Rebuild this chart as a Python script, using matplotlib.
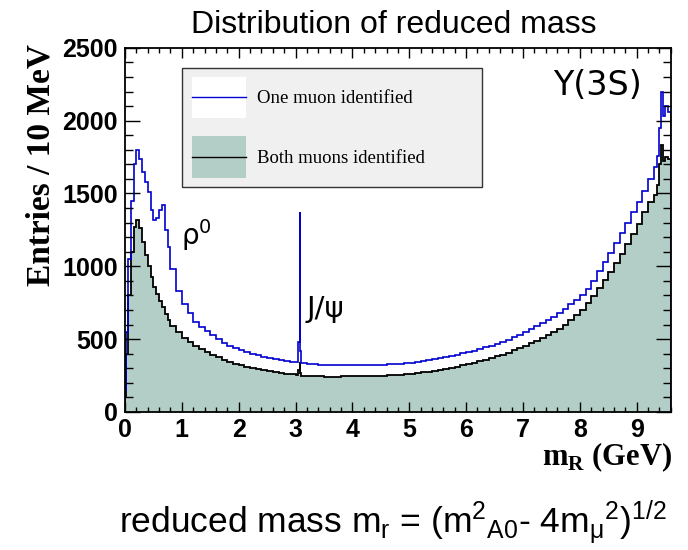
import matplotlib
matplotlib.use('Agg')
import matplotlib.pyplot as plt
from matplotlib.patches import Rectangle
from matplotlib.ticker import MultipleLocator

# Histogram binning (GeV) and contents (entries / 10 MeV)
mass_edges = [0.0, 0.02, 0.05, 0.1, 0.15, 0.2, 0.25, 0.3, 0.35, 0.4, 0.45, 0.5,
              0.55, 0.6, 0.65, 0.7, 0.75, 0.8, 0.9, 1.0, 1.1, 1.2, 1.3, 1.4,
              1.5, 1.6, 1.7, 1.8, 1.9, 2.0, 2.1, 2.2, 2.3, 2.4, 2.5, 2.6, 2.7,
              2.8, 2.9, 3.0, 3.05, 3.07, 3.08, 3.1, 3.2, 3.3, 3.4, 3.5, 3.6,
              3.7, 3.8, 3.9, 4.0, 4.1, 4.2, 4.3, 4.4, 4.5, 4.6, 4.7, 4.8, 4.9,
              5.0, 5.1, 5.2, 5.3, 5.4, 5.5, 5.6, 5.7, 5.8, 5.9, 6.0, 6.1, 6.2,
              6.3, 6.4, 6.5, 6.6, 6.7, 6.8, 6.9, 7.0, 7.1, 7.2, 7.3, 7.4, 7.5,
              7.6, 7.7, 7.8, 7.9, 8.0, 8.1, 8.2, 8.3, 8.4, 8.5, 8.6, 8.7, 8.8,
              8.9, 9.0, 9.1, 9.2, 9.3, 9.35, 9.4, 9.43, 9.46, 9.5, 9.55, 9.6]

one_muon = [150, 550, 1050, 1450, 1700, 1800, 1740, 1650, 1580, 1510, 1390,
            1320, 1330, 1390, 1420, 1250, 1130, 980, 830, 740, 680, 620, 585,
            555, 525, 500, 475, 455, 440, 425, 410, 398, 388, 378, 370, 362,
            355, 348, 342, 340, 480, 1370, 420, 335, 330, 327, 325, 323, 322,
            320, 320, 320, 320, 320, 321, 322, 323, 325, 327, 329, 331,
            333, 337, 342, 348, 355, 362, 370, 377, 385, 393, 402, 411, 421,
            432, 443, 455, 468, 482, 497, 513, 530, 548, 567, 587, 608, 630,
            654, 680, 708, 738, 770, 805, 845, 900, 970, 1030, 1090, 1160,
            1230, 1300, 1370, 1440, 1520, 1600, 1680, 1760, 1950, 2200, 2030,
            2100, 2060]

both_muons = [100, 400, 800, 1100, 1270, 1320, 1260, 1170, 1080, 1000, 930,
              860, 810, 760, 720, 670, 630, 590, 550, 510, 480, 450, 430, 410,
              390, 375, 360, 345, 330, 320, 310, 300, 292, 285, 278, 272, 267,
              262, 258, 255, 290, 340, 270, 250, 247, 245, 244, 243, 243, 243,
              244, 245, 245, 246, 247, 248, 249, 250, 252, 254, 256, 258,
              262, 266, 271, 277, 283, 290, 297, 304, 312, 320, 329, 338, 348,
              358, 369, 381, 394, 408, 422, 437, 453, 470, 488, 507, 527, 548,
              571, 600, 630, 665, 700, 745, 795, 850, 905, 960, 1020, 1085,
              1150, 1220, 1290, 1370, 1440, 1490, 1560, 1700, 1830, 1720, 1750,
              1740]

x_ticks = [0, 1, 2, 3, 4, 5, 6, 7, 8, 9]
y_ticks = [0, 500, 1000, 1500, 2000, 2500]

plt.rcParams['mathtext.fontset'] = 'custom'
plt.rcParams['mathtext.rm'] = 'Liberation Sans'
plt.rcParams['mathtext.it'] = 'Liberation Sans:italic'
plt.rcParams['mathtext.bf'] = 'Liberation Serif:bold'

fig = plt.figure(figsize=(6.88, 5.5), dpi=100)
ax = fig.add_axes([0.1817, 0.251, 0.7933, 0.662])

fill_color = '#b3cec6'
ax.stairs(both_muons, mass_edges, fill=True, color=fill_color, lw=0)
ax.stairs(both_muons, mass_edges, color='black', lw=1.3)
ax.stairs(one_muon, mass_edges, color='#0000d0', lw=1.2)

ax.set_xlim(0, 9.6)
ax.set_ylim(0, 2500)
ax.set_xticks(x_ticks)
ax.set_yticks(y_ticks)
ax.xaxis.set_minor_locator(MultipleLocator(0.2))
ax.yaxis.set_minor_locator(MultipleLocator(100))
ax.tick_params(axis='x', which='major', direction='in', length=7.2, width=1.0,
               top=True, labelsize=18, pad=4)
ax.tick_params(axis='x', which='minor', direction='in', length=3.6, width=1.0, top=True)
ax.tick_params(axis='y', which='major', direction='in', length=10.8, width=1.0,
               right=True, labelsize=18, pad=5)
ax.tick_params(axis='y', which='minor', direction='in', length=5.8, width=1.0, right=True)
for lbl in ax.get_xticklabels() + ax.get_yticklabels():
    lbl.set_fontfamily('Liberation Sans')
    lbl.set_fontweight('bold')
for sp in ax.spines.values():
    sp.set_linewidth(1.3)

# ROOT-style legend box
ax.add_patch(Rectangle((0.104, 0.618), 0.55, 0.327, transform=ax.transAxes,
                       facecolor='#f0f0f0', edgecolor='#333333', lw=1.0, zorder=5))
ax.add_patch(Rectangle((0.123, 0.808), 0.099, 0.112, transform=ax.transAxes,
                       facecolor='white', edgecolor='none', zorder=6))
ax.plot([0.123, 0.222], [0.865, 0.865], transform=ax.transAxes, color='#0000d0', lw=1.0, zorder=7)
ax.add_patch(Rectangle((0.123, 0.643), 0.099, 0.115, transform=ax.transAxes,
                       facecolor=fill_color, edgecolor='none', zorder=6))
ax.plot([0.123, 0.222], [0.70, 0.70], transform=ax.transAxes, color='black', lw=1.0, zorder=7)
ax.text(0.242, 0.862, 'One muon identified', transform=ax.transAxes, va='center',
        family='Liberation Serif', fontsize=13.5, zorder=8)
ax.text(0.242, 0.697, 'Both muons identified', transform=ax.transAxes, va='center',
        family='Liberation Serif', fontsize=13.5, zorder=8)

# resonance labels
ax.text(0.865, 0.896, 'Υ(3S)', transform=ax.transAxes, ha='center', va='center',
        family='DejaVu Sans', fontsize=24)
ax.text(0.98, 1144, r'ρ$^{\mathregular{0}}$', ha='left', va='baseline',
        family='DejaVu Sans', fontsize=20)
ax.text(3.19, 653, 'J/ψ', ha='left', va='baseline', family='DejaVu Sans', fontsize=21)

fig.text(394 / 688, 1 - 33 / 550, 'Distribution of reduced mass', ha='center',
         va='baseline', family='Liberation Sans', fontsize=23)
fig.text(41 / 688, 1 - 165 / 550, 'Entries / 10 MeV', rotation=90, ha='center',
         va='center', family='Liberation Serif', weight='bold', fontsize=24)
fig.text(672 / 688, 1 - 465 / 550, r'm$_\mathbf{R}$ (GeV)', ha='right', va='baseline',
         family='Liberation Serif', weight='bold', fontsize=22)
fig.text(393 / 688, 1 - 533 / 550,
         r'reduced mass m$_\mathregular{r}$ = (m$^\mathregular{2}$$_\mathregular{A0}$'
         r'- 4m$_\mathregular{μ}$$^\mathregular{2}$)$^\mathregular{1/2}$',
         ha='center', va='baseline', family='Liberation Sans', fontsize=25.5)

fig.savefig('out.png', dpi=100)
